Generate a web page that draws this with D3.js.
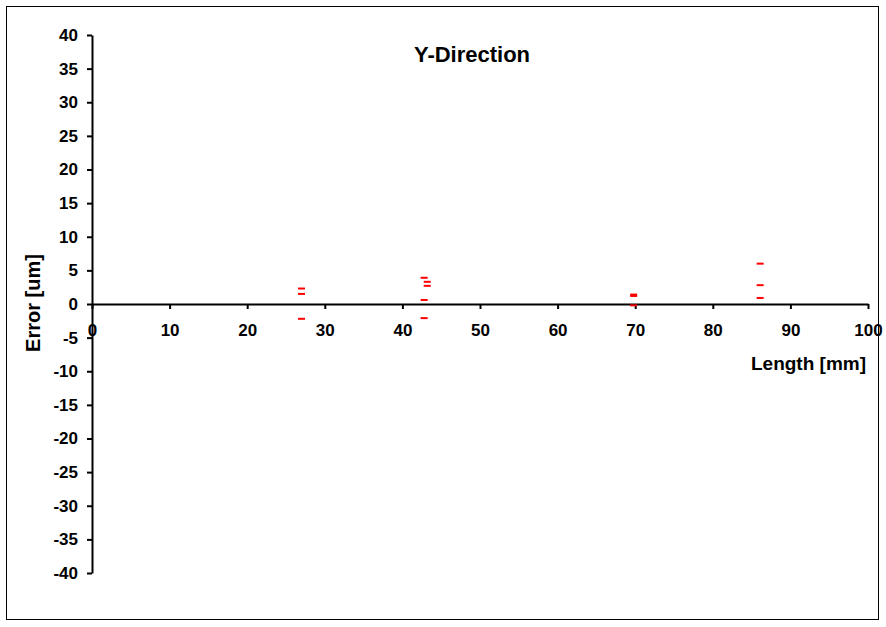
<!DOCTYPE html>
<html><head><meta charset="utf-8">
<script src="https://cdn.jsdelivr.net/npm/d3@7"></script>
<style>body{margin:0;background:#fff}svg text{font-family:"Liberation Sans",Arial,sans-serif;font-weight:bold}</style>
</head><body><svg id="c" width="886" height="627"></svg>
<script>
const xValues = [27.0, 27.0, 27.0, 42.8, 43.2, 43.2, 42.8, 42.8, 69.8, 69.8, 69.8, 86.1, 86.1, 86.1];
const yValues = [2.3, 1.5, -2.2, 3.9, 3.3, 2.7, 0.6, -2.1, 1.4, 1.2, -0.2, 6.0, 2.8, 0.9];
const xTicks = [0,10,20,30,40,50,60,70,80,90,100];
const yTicks = d3.range(-40, 41, 5);

const svg = d3.select("#c");
svg.append("rect").attr("x",6.5).attr("y",6.5).attr("width",872).attr("height",613).attr("fill","none").attr("stroke","#000").attr("stroke-width",1);

const x = d3.scaleLinear().domain([0,100]).range([92,868]);
const y = d3.scaleLinear().domain([-40,40]).range([573,35]);
const fmt = d => String(d);

const yAxis = svg.append("g").attr("transform","translate(92,0)")
  .call(d3.axisLeft(y).tickValues(yTicks).tickFormat(fmt).tickSize(5).tickPadding(9).tickSizeOuter(0));
yAxis.selectAll("text").attr("font-size",17).attr("fill","#000");

const xAxis = svg.append("g").attr("transform",`translate(0,${y(0)})`)
  .call(d3.axisBottom(x).tickValues(xTicks).tickFormat(fmt).tickSize(5).tickPadding(15).tickSizeOuter(0));
xAxis.selectAll("text").attr("font-size",17).attr("fill","#000");
svg.selectAll(".domain, .tick line").attr("stroke","#000").attr("stroke-width",2);

svg.selectAll("rect.pt").data(xValues).enter().append("rect").attr("class","pt")
  .attr("x",(d)=>x(d)-3.5).attr("y",(d,i)=>y(yValues[i])-1).attr("width",7).attr("height",2).attr("fill","#ff0000");

svg.append("text").attr("x",472).attr("y",62).attr("text-anchor","middle").attr("font-size",22).text("Y-Direction");
svg.append("text").attr("x",866).attr("y",370).attr("text-anchor","end").attr("font-size",19).text("Length [mm]");
svg.append("text").attr("transform","translate(40,303) rotate(-90)").attr("text-anchor","middle").attr("font-size",20).text("Error [um]");
</script></body></html>
